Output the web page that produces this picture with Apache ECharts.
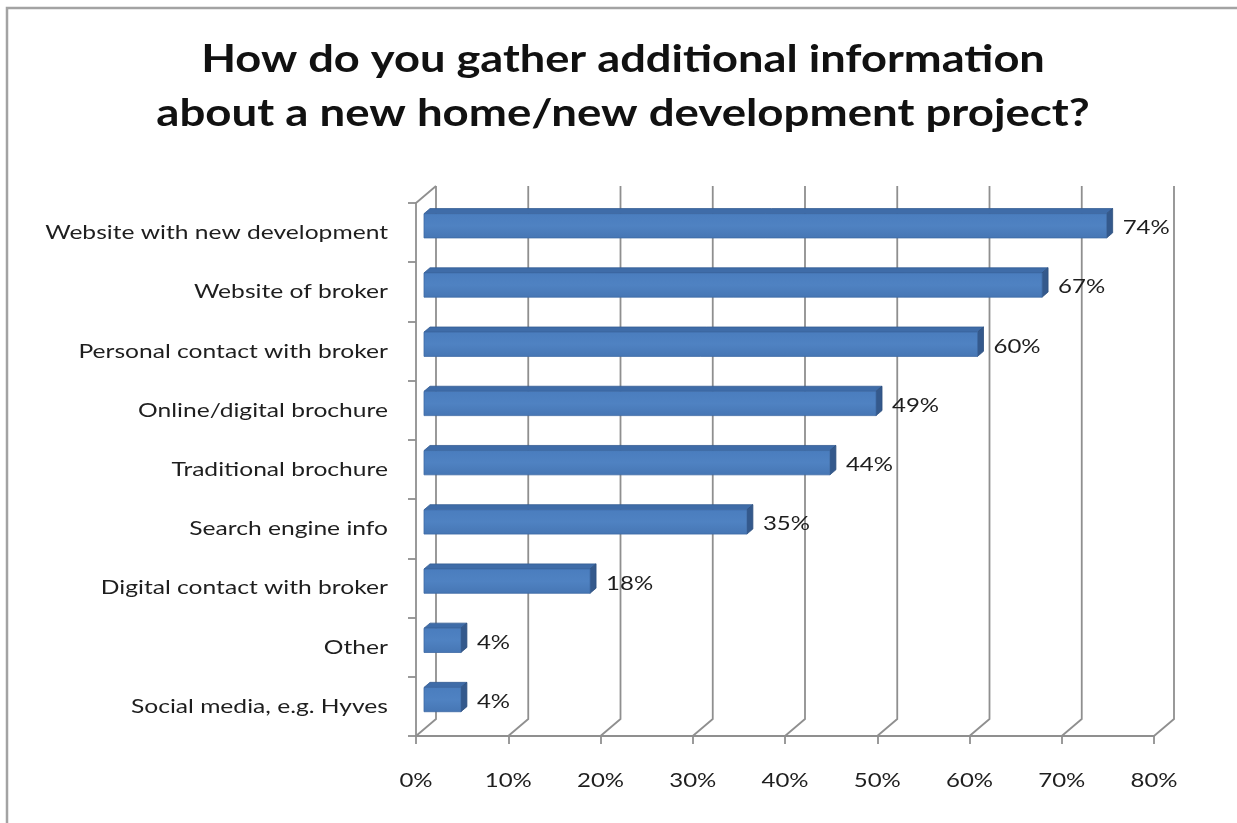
<!DOCTYPE html>
<html>
<head>
<meta charset="utf-8">
<script src="https://cdn.jsdelivr.net/npm/echarts@6/dist/echarts.min.js"></script>
<style>
  html, body { margin: 0; padding: 0; background: #ffffff; }
  #chart { width: 1237px; height: 823px; }
</style>
</head>
<body>
<div id="chart"></div>
<script>
// Survey answers, top to bottom
const categories = [
  'Website with new development',
  'Website of broker',
  'Personal contact with broker',
  'Online/digital brochure',
  'Traditional brochure',
  'Search engine info',
  'Digital contact with broker',
  'Other',
  'Social media, e.g. Hyves'
];
const shares = [74, 67, 60, 49, 44, 35, 18, 4, 4];
const xTicks = [0, 10, 20, 30, 40, 50, 60, 70, 80];
const titleLines = [
  'How do you gather additional information',
  'about a new home/new development project?'
];

// pseudo-3D depth of the plot box (pixels from front plane to back wall)
const DEPTH_X = 20, DEPTH_Y = -17;
const BAR_FRONT = 0.4, BAR_BACK = 0.7, BAR_H = 0.41;
const GRID_COLOR = '#8f8f8f';
const TEXT_COLOR = '#1e1e1e';
const FONT = 'Lato, "DejaVu Sans", sans-serif';
const STRETCH = 1.2; // wide lettering

const chart = echarts.init(document.getElementById('chart'), null, { renderer: 'canvas' });

function wideText(x, y, text, font, align, stretch) {
  return {
    type: 'text',
    x: x,
    y: y,
    scaleX: stretch || STRETCH,
    style: { text: text, fill: TEXT_COLOR, font: font, align: align, verticalAlign: 'middle' }
  };
}

// back wall gridlines, floor diagonals and x tick labels
function renderWall(params, api) {
  const v = api.value(0);
  const cs = params.coordSys;
  const top = cs.y, bottom = cs.y + cs.height;
  const px = api.coord([v, 0])[0];
  const children = [{
    type: 'polyline',
    shape: { points: [[px, bottom], [px + DEPTH_X, bottom + DEPTH_Y], [px + DEPTH_X, top + DEPTH_Y]] },
    style: { stroke: GRID_COLOR, lineWidth: 1.8, fill: null }
  }, wideText(px, bottom + 45, v + '%', '20px ' + FONT, 'center')];
  if (v === xTicks[0]) {
    children.push({
      type: 'line',
      shape: { x1: px, y1: top, x2: px + DEPTH_X, y2: top + DEPTH_Y },
      style: { stroke: GRID_COLOR, lineWidth: 1.8 }
    });
  }
  return { type: 'group', children };
}

// 3D-looking bar: front face, top face, end face, value and category text
function renderBar(params, api) {
  const val = api.value(0);
  const idx = api.value(1);
  const cs = params.coordSys;
  const p0 = api.coord([0, idx]);
  const p1 = api.coord([val, idx]);
  const band = api.size([0, 1])[1];
  const h = band * BAR_H;
  const fx = BAR_FRONT * DEPTH_X, fy = BAR_FRONT * DEPTH_Y;
  const dx = (BAR_BACK - BAR_FRONT) * DEPTH_X, dy = (BAR_BACK - BAR_FRONT) * DEPTH_Y;
  const xl = p0[0] + fx, xr = p1[0] + fx;
  const yt = p0[1] - h / 2 + fy, yb = p0[1] + h / 2 + fy;
  return {
    type: 'group',
    children: [
      {
        type: 'polygon',
        shape: { points: [[xl, yt], [xr, yt], [xr + dx, yt + dy], [xl + dx, yt + dy]] },
        style: { fill: '#3f6ca8', stroke: '#355d93', lineWidth: 0.8 }
      },
      {
        type: 'polygon',
        shape: { points: [[xr, yt], [xr + dx, yt + dy], [xr + dx, yb + dy], [xr, yb]] },
        style: { fill: '#34598c', stroke: '#2d4f7e', lineWidth: 0.8 }
      },
      {
        type: 'rect',
        shape: { x: xl, y: yt, width: xr - xl, height: yb - yt },
        style: {
          fill: new echarts.graphic.LinearGradient(0, 0, 0, 1, [
            { offset: 0, color: '#4a7dbe' },
            { offset: 0.5, color: '#4f82c2' },
            { offset: 1, color: '#4676b4' }
          ]),
          stroke: '#3d6aa5', lineWidth: 0.8
        }
      },
      wideText(xr + dx + 10, (yt + yb) / 2 + 2, val + '%', '20px ' + FONT, 'left'),
      wideText(cs.x - 28, p0[1], categories[idx], '20px ' + FONT, 'right', 1.23)
    ]
  };
}

const option = {
  backgroundColor: '#ffffff',
  animation: false,
  graphic: [
    {
      type: 'rect',
      shape: { x: 7, y: 8, width: 1400, height: 1000 },
      style: { fill: null, stroke: '#a3a3a3', lineWidth: 2.5 },
      silent: true,
      z: -1
    },
    {
      type: 'text', x: 623, y: 60, scaleX: 1.19,
      style: { text: titleLines[0], fill: '#111111', font: 'bold 38px ' + FONT, align: 'center', verticalAlign: 'middle' }
    },
    {
      type: 'text', x: 623, y: 114, scaleX: 1.2,
      style: { text: titleLines[1], fill: '#111111', font: 'bold 38px ' + FONT, align: 'center', verticalAlign: 'middle' }
    }
  ],
  grid: { left: 416, right: 83, top: 203, bottom: 87, containLabel: false },
  xAxis: {
    type: 'value',
    min: 0,
    max: 80,
    interval: 10,
    axisLine: { show: true, lineStyle: { color: GRID_COLOR, width: 1.8 } },
    axisTick: { show: true, length: 8, lineStyle: { color: GRID_COLOR, width: 1.8 } },
    splitLine: { show: false },
    axisLabel: { show: false }
  },
  yAxis: {
    type: 'category',
    inverse: true,
    data: categories,
    axisLine: { show: true, lineStyle: { color: GRID_COLOR, width: 1.8 } },
    axisTick: { show: true, length: 8, lineStyle: { color: GRID_COLOR, width: 1.8 } },
    axisLabel: { show: false }
  },
  series: [
    {
      type: 'custom',
      name: 'walls',
      renderItem: renderWall,
      data: xTicks.map(t => [t]),
      encode: { x: 0 },
      silent: true,
      clip: false,
      z: 1
    },
    {
      type: 'custom',
      name: 'share',
      renderItem: renderBar,
      data: shares.map((v, i) => [v, i]),
      encode: { x: 0, y: 1 },
      clip: false,
      z: 3
    }
  ]
};

chart.setOption(option);
</script>
</body>
</html>
